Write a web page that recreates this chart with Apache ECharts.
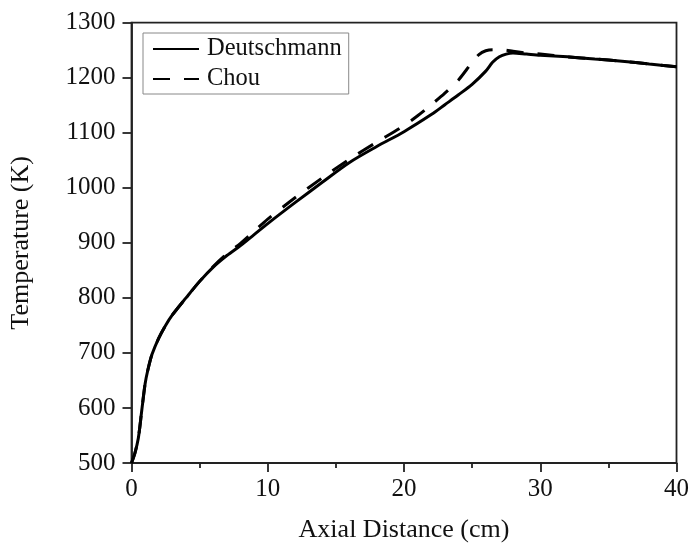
<!DOCTYPE html>
<html>
<head>
<meta charset="utf-8">
<script src="https://cdn.jsdelivr.net/npm/echarts@6/dist/echarts.min.js"></script>
<style>html,body{margin:0;padding:0;background:#fff}#c{width:692px;height:549px}</style>
</head>
<body>
<div id="c"></div>
<script>
var deutX = [0, 0.25, 0.5, 0.75, 1.0, 1.2, 1.5, 2, 2.5, 3, 4, 5, 6, 7, 8, 9, 10, 12, 14, 16, 18, 20, 22, 23, 24, 25, 26, 26.5, 27, 27.5, 28, 29, 30, 32, 34, 36, 38, 40];
var deutT = [500, 518, 545, 595, 644, 669, 697, 727, 750, 769, 800, 830, 856, 877, 895, 915, 935, 973, 1010, 1046, 1075, 1102, 1133, 1151, 1169, 1188, 1212, 1228, 1238, 1243, 1245, 1243, 1241, 1238, 1234, 1230, 1225, 1220];
var chouX = [0, 0.25, 0.5, 0.75, 1.0, 1.2, 1.5, 2, 2.5, 3, 4, 5, 6, 7, 8, 9, 10, 12, 14, 16, 18, 20, 21, 22, 23, 24, 25, 25.5, 26, 26.5, 27, 27.5, 28, 29, 30, 32, 34, 36, 38, 40];
var chouT = [500, 518, 545, 595, 644, 669, 697, 727, 750, 769, 800, 830, 857, 880, 899, 921, 943, 982, 1018, 1052, 1083, 1113, 1131, 1151, 1172, 1196, 1228, 1242, 1249, 1251, 1251, 1250, 1248, 1245, 1243, 1238, 1234, 1230, 1225, 1220];
var xTicks = [0, 10, 20, 30, 40];
var yTicks = [500, 600, 700, 800, 900, 1000, 1100, 1200, 1300];

function pairs(xs, ys) { return xs.map(function (x, i) { return [x, ys[i]]; }); }

var FONT = 'Liberation Serif';
var AX = '#222';
var chart = echarts.init(document.getElementById('c'));
chart.setOption({
  animation: false,
  backgroundColor: '#fff',
  grid: { left: 131.5, right: 14, top: 22.7, bottom: 86, show: true, borderColor: AX, borderWidth: 1.8, backgroundColor: 'transparent' },
  legend: {
    orient: 'vertical', left: 143, top: 33,
    padding: [2, 7, 1, 9],
    borderColor: '#888', borderWidth: 1,
    itemWidth: 46, itemHeight: 6, itemGap: 2,
    itemStyle: { opacity: 0 },
    textStyle: { fontFamily: FONT, fontSize: 24.5, color: '#111', lineHeight: 28, padding: [0, 0, 0, 3] },
    data: ['Deutschmann', 'Chou']
  },
  xAxis: {
    type: 'value', min: xTicks[0], max: xTicks[xTicks.length - 1], interval: 10,
    name: 'Axial Distance (cm)', nameLocation: 'middle', nameGap: 54,
    nameTextStyle: { fontFamily: FONT, fontSize: 26, color: '#111' },
    axisLine: { lineStyle: { color: AX, width: 1.8 } },
    axisTick: { show: true, inside: false, length: 9, lineStyle: { color: AX, width: 1.8 } },
    minorTick: { show: true, splitNumber: 2, length: 5, lineStyle: { color: AX, width: 1.8 } },
    axisLabel: { fontFamily: FONT, fontSize: 25, color: '#111', margin: 14 },
    splitLine: { show: false }
  },
  yAxis: {
    type: 'value', min: yTicks[0], max: yTicks[yTicks.length - 1], interval: 100,
    name: 'Temperature (K)', nameLocation: 'middle', nameGap: 97,
    nameTextStyle: { fontFamily: FONT, fontSize: 26, color: '#111' },
    axisLine: { show: true, lineStyle: { color: AX, width: 1.8 } },
    axisTick: { show: true, inside: false, length: 9, lineStyle: { color: AX, width: 1.8 } },
    axisLabel: { fontFamily: FONT, fontSize: 25, color: '#111', margin: 16, formatter: function (v) { return String(v); } },
    splitLine: { show: false }
  },
  series: [
    {
      name: 'Deutschmann', type: 'line', data: pairs(deutX, deutT),
      showSymbol: false, symbol: 'none', smooth: 0.3,
      lineStyle: { color: '#000', width: 3, type: 'solid' },
      itemStyle: { color: '#000' }, z: 3
    },
    {
      name: 'Chou', type: 'line', data: pairs(chouX, chouT),
      showSymbol: false, symbol: 'none', smooth: 0.3,
      lineStyle: { color: '#000', width: 3, type: [17, 14] },
      itemStyle: { color: '#000' }, z: 2
    }
  ]
});
</script>
</body>
</html>
